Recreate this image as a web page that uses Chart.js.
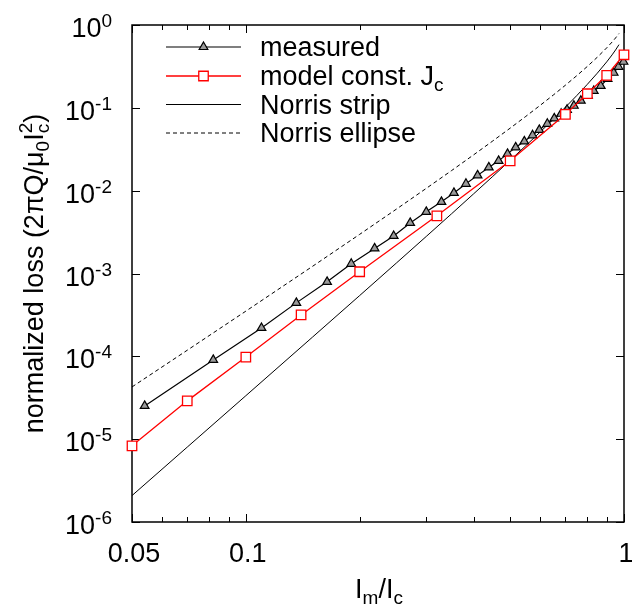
<!DOCTYPE html>
<html>
<head>
<meta charset="utf-8">
<script src="https://cdn.jsdelivr.net/npm/chart.js"></script>
<style>
html, body { margin: 0; padding: 0; background: #fff; }
canvas { display: block; }
</style>
</head>
<body>
<canvas id="lossChart" width="632" height="610"></canvas>
<script>
// measured loss (triangles)
const measuredX = [0.054, 0.082, 0.110, 0.136, 0.164, 0.190, 0.219, 0.246, 0.272, 0.300, 0.329, 0.355,
  0.382, 0.410, 0.439, 0.466, 0.492, 0.517, 0.545, 0.573, 0.597, 0.627, 0.654, 0.682, 0.707, 0.737,
  0.769, 0.803, 0.832, 0.868, 0.905, 0.939, 0.967, 0.997];
const measuredY = [2.52e-5, 9.05e-5, 2.20e-4, 4.42e-4, 7.93e-4, 1.31e-3, 2.01e-3, 2.84e-3, 4.08e-3, 5.55e-3,
  7.33e-3, 9.40e-3, 1.21e-2, 1.53e-2, 1.91e-2, 2.29e-2, 2.78e-2, 3.33e-2, 3.94e-2, 4.66e-2, 5.42e-2,
  6.42e-2, 7.46e-2, 8.48e-2, 9.47e-2, 0.106, 0.122, 0.140, 0.160, 0.184, 0.224, 0.265, 0.313, 0.36];

// model with constant Jc (squares)
const modelX = [0.05, 0.07, 0.1, 0.14, 0.2, 0.32, 0.5, 0.7, 0.8, 0.9, 1.0];
const modelY = [8.3e-6, 2.9e-5, 9.8e-5, 3.16e-4, 1.05e-3, 4.97e-3, 2.29e-2, 8.34e-2, 0.148, 0.247, 0.437];

// Norris curves
const norrisX = [0.05, 0.07, 0.1, 0.15, 0.2, 0.25, 0.3, 0.35, 0.4, 0.45, 0.5, 0.55, 0.6, 0.65, 0.7,
  0.75, 0.8, 0.85, 0.9, 0.93, 0.95, 0.97];
const stripY = [2.085e-6, 8.02e-6, 3.347e-5, 1.703e-4, 5.42e-4, 1.336e-3, 2.802e-3, 5.264e-3, 9.13e-3,
  1.491e-2, 2.325e-2, 3.493e-2, 5.098e-2, 7.268e-2, 0.1018, 0.1405, 0.1923, 0.2621, 0.3585, 0.4359,
  0.5000, 0.5793];
const ellipseY = [4.27e-5, 1.185e-4, 3.511e-4, 1.218e-3, 2.970e-3, 5.976e-3, 1.066e-2, 1.748e-2, 2.701e-2,
  3.988e-2, 5.685e-2, 7.884e-2, 0.1070, 0.1426, 0.1876, 0.2444, 0.3162, 0.4084, 0.5295, 0.6228,
  0.6979, 0.7887];

// axes
const xTickVals = [0.05, 0.1, 1];
const xTickLabels = ['0.05', '0.1', '1'];
const xMinorTicks = [0.06, 0.07, 0.08, 0.09, 0.2, 0.3, 0.4, 0.5, 0.6, 0.7, 0.8, 0.9];
const yTickExps = [0, -1, -2, -3, -4, -5, -6];

const FONT = '"Liberation Sans", Arial, Helvetica, sans-serif';
const BIG = 27;
const SMALL = 19;

const toPoints = (xs, ys) => xs.map((x, i) => ({ x: x, y: ys[i] }));

// draw a row of text pieces, some raised or lowered
function drawRuns(ctx, runs, x, y, align) {
  let total = 0;
  let pending = 0;
  const widths = runs.map(r => {
    ctx.font = r.s + 'px ' + FONT;
    return ctx.measureText(r.t).width;
  });
  runs.forEach((r, i) => {
    if (r.stack) { pending = widths[i]; return; }
    total += Math.max(widths[i], pending);
    pending = 0;
  });
  total += pending;
  let cx = align === 'center' ? x - total / 2 : align === 'right' ? x - total : x;
  pending = 0;
  runs.forEach((r, i) => {
    ctx.font = r.s + 'px ' + FONT;
    ctx.fillText(r.t, cx, y + (r.dy || 0));
    if (r.stack) { pending = widths[i]; return; }
    cx += Math.max(widths[i], pending);
    pending = 0;
  });
}

const legendRows = [
  [{ t: 'measured', s: BIG }],
  [{ t: 'model const. J', s: BIG }, { t: 'c', s: SMALL, dy: 6 }],
  [{ t: 'Norris strip', s: BIG }],
  [{ t: 'Norris ellipse', s: BIG }]
];

const decorPlugin = {
  id: 'decor',
  beforeDatasetsDraw(chart) {
    const ctx = chart.ctx;
    const a = chart.chartArea;
    const xs = chart.scales.x;
    const ys = chart.scales.y;
    ctx.save();
    ctx.strokeStyle = '#000';
    ctx.lineWidth = 1.5;
    ctx.strokeRect(a.left, a.top, a.right - a.left, a.bottom - a.top);
    ctx.lineWidth = 1;
    ctx.beginPath();
    xTickVals.concat(xMinorTicks).forEach(v => {
      const len = xTickVals.includes(v) ? 8 : 5;
      const px = Math.round(xs.getPixelForValue(v)) + 0.5;
      ctx.moveTo(px, a.bottom); ctx.lineTo(px, a.bottom - len);
      ctx.moveTo(px, a.top); ctx.lineTo(px, a.top + len);
    });
    yTickExps.forEach(e => {
      const py = Math.round(ys.getPixelForValue(Math.pow(10, e))) + 0.5;
      ctx.moveTo(a.left, py); ctx.lineTo(a.left + 8, py);
      ctx.moveTo(a.right, py); ctx.lineTo(a.right - 8, py);
    });
    ctx.stroke();
    ctx.restore();
  },
  afterDraw(chart) {
    const ctx = chart.ctx;
    const a = chart.chartArea;
    const xs = chart.scales.x;
    const ys = chart.scales.y;
    ctx.save();
    ctx.fillStyle = '#000';
    ctx.textBaseline = 'alphabetic';

    // x tick labels
    xTickVals.forEach((v, i) => {
      drawRuns(ctx, [{ t: xTickLabels[i], s: BIG }], xs.getPixelForValue(v) + 2, a.bottom + 40, 'center');
    });
    // y tick labels 10^n
    yTickExps.forEach(e => {
      const py = ys.getPixelForValue(Math.pow(10, e));
      drawRuns(ctx, [{ t: '10', s: BIG }, { t: String(e), s: SMALL, dy: -10 }], a.left - 20, py + 12, 'right');
    });

    // x title
    drawRuns(ctx, [
      { t: 'I', s: BIG }, { t: 'm', s: SMALL, dy: 6 }, { t: '/I', s: BIG }, { t: 'c', s: SMALL, dy: 6 }
    ], (a.left + a.right) / 2 + 1, 598, 'center');

    // y title, rotated
    ctx.save();
    ctx.translate(43, (a.top + a.bottom) / 2);
    ctx.rotate(-Math.PI / 2);
    drawRuns(ctx, [
      { t: 'normalized loss (2πQ/μ', s: BIG }, { t: '0', s: SMALL, dy: 6 }, { t: 'I', s: BIG },
      { t: '2', s: SMALL, dy: -11, stack: true }, { t: 'c', s: SMALL, dy: 6 }, { t: ')', s: BIG }
    ], 0, 0, 'center');
    ctx.restore();

    // legend
    const rowsY = [47, 76, 104.5, 133];
    chart.data.datasets.forEach((ds, i) => {
      const y = rowsY[i];
      ctx.save();
      ctx.strokeStyle = ds.borderColor;
      ctx.lineWidth = ds.borderWidth;
      ctx.setLineDash(ds.borderDash || []);
      ctx.beginPath();
      ctx.moveTo(166, y); ctx.lineTo(241, y);
      ctx.stroke();
      ctx.setLineDash([]);
      if (ds.pointRadius > 0) {
        ctx.fillStyle = ds.pointBackgroundColor;
        ctx.strokeStyle = ds.pointBorderColor;
        ctx.lineWidth = ds.pointBorderWidth;
        Chart.helpers.drawPoint(ctx, {
          pointStyle: ds.pointStyle, radius: ds.pointRadius, rotation: 0, borderWidth: ds.pointBorderWidth
        }, 203.5, y);
      }
      ctx.restore();
      drawRuns(ctx, legendRows[i], 260, y + 9, 'left');
    });
    ctx.restore();
  }
};

new Chart(document.getElementById('lossChart'), {
  type: 'scatter',
  data: {
    datasets: [
      {
        label: 'measured',
        data: toPoints(measuredX, measuredY),
        showLine: true,
        borderColor: '#000',
        borderWidth: 1.2,
        pointStyle: 'triangle',
        pointRadius: 5,
        pointBackgroundColor: '#9a9a9a',
        pointBorderColor: '#000',
        pointBorderWidth: 1.2,
        clip: false,
        order: 1
      },
      {
        label: 'model const. Jc',
        data: toPoints(modelX, modelY),
        showLine: true,
        borderColor: '#ff0000',
        borderWidth: 1.3,
        pointStyle: 'rect',
        pointRadius: 6.7,
        pointBackgroundColor: '#fff',
        pointBorderColor: '#ff0000',
        pointBorderWidth: 1.3,
        clip: false,
        order: 0
      },
      {
        label: 'Norris strip',
        data: toPoints(norrisX, stripY),
        showLine: true,
        borderColor: '#000',
        borderWidth: 1,
        pointRadius: 0,
        clip: false,
        order: 2
      },
      {
        label: 'Norris ellipse',
        data: toPoints(norrisX, ellipseY),
        showLine: true,
        borderColor: '#000',
        borderWidth: 1,
        borderDash: [4, 3],
        pointRadius: 0,
        clip: false,
        order: 3
      }
    ]
  },
  options: {
    responsive: false,
    animation: false,
    devicePixelRatio: 1,
    layout: { padding: { left: 132, right: 4, top: 25, bottom: 88 } },
    plugins: { legend: { display: false }, tooltip: { enabled: false } },
    elements: { line: { tension: 0 } },
    scales: {
      x: {
        type: 'logarithmic', min: 0.05, max: 1,
        ticks: { display: false }, grid: { display: false, drawTicks: false }, border: { display: false }
      },
      y: {
        type: 'logarithmic', min: 1e-6, max: 1,
        ticks: { display: false }, grid: { display: false, drawTicks: false }, border: { display: false }
      }
    }
  },
  plugins: [decorPlugin]
});
</script>
</body>
</html>
